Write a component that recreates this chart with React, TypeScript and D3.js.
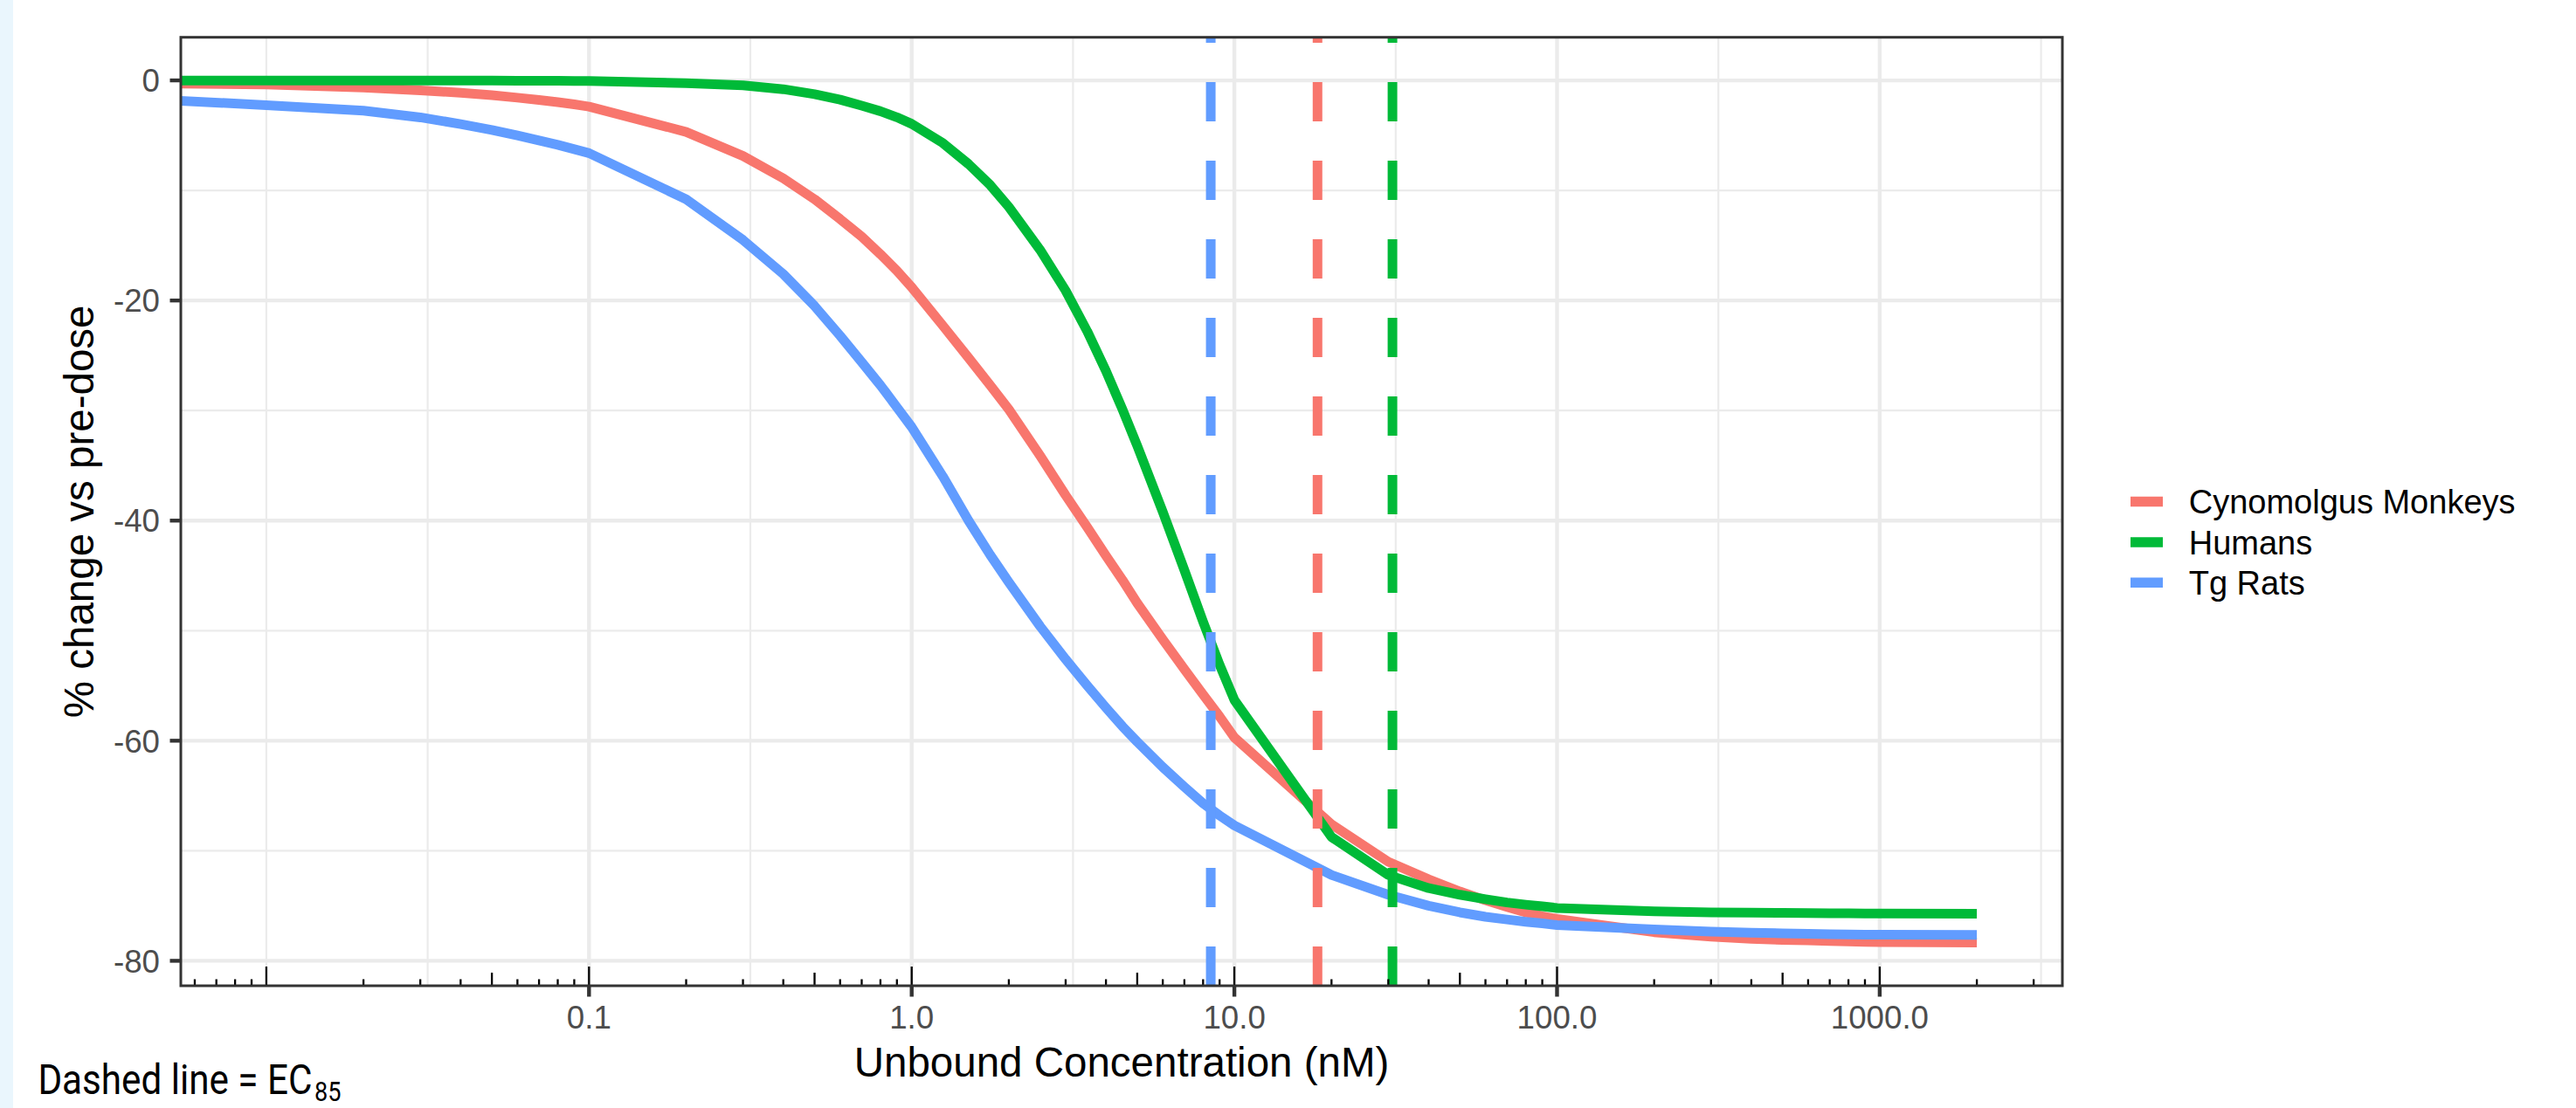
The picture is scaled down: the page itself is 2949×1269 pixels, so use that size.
import React from 'react';
import * as d3 from 'd3';

// ---- data ----
const concentrations = [
  0.001, 0.01, 0.02, 0.03, 0.04, 0.05, 0.06, 0.07, 0.08, 0.09,
  0.1, 0.2, 0.3, 0.4, 0.5, 0.6, 0.7, 0.8, 0.9,
  1, 1.25, 1.5, 1.75, 2, 2.5, 3, 3.5, 4, 4.5, 5, 6, 7, 8, 9,
  10, 20, 30, 40, 50, 60, 70, 80, 90,
  100, 200, 300, 400, 500, 600, 700, 800, 900,
  1000, 2000,
];
const cynoValues = [
  -0.05, -0.37, -0.65, -0.9, -1.13, -1.35, -1.57, -1.78, -1.98, -2.18,
  -2.38, -4.68, -6.87, -8.9, -10.8, -12.6, -14.2, -15.8, -17.3,
  -18.8, -22.3, -25.2, -27.7, -29.9, -34.1, -37.7, -40.6, -43.2, -45.4, -47.5, -50.8, -53.5, -55.8, -57.8,
  -59.7, -67.6, -71.0, -72.6, -73.7, -74.5, -75.1, -75.6, -75.95,
  -76.2, -77.4, -77.8, -78.0, -78.1, -78.15, -78.2, -78.25, -78.28,
  -78.3, -78.35,
];
const humanValues = [
  0, -0.01, -0.01, -0.01, -0.02, -0.02, -0.03, -0.03, -0.04, -0.05,
  -0.06, -0.25, -0.45, -0.8, -1.25, -1.75, -2.3, -2.8, -3.35,
  -3.95, -5.7, -7.6, -9.5, -11.5, -15.4, -19.1, -22.8, -26.4, -29.9, -33.2, -39.2, -44.5, -49.2, -53.1,
  -56.3, -68.75, -72.2, -73.4, -74.0, -74.4, -74.7, -74.9, -75.05,
  -75.2, -75.5, -75.6, -75.62, -75.65, -75.67, -75.68, -75.69, -75.7,
  -75.7, -75.72,
];
const ratValues = [
  -0.75, -2.25, -2.75, -3.36, -3.97, -4.5, -5.0, -5.45, -5.85, -6.25,
  -6.61, -10.8, -14.5, -17.6, -20.5, -23.2, -25.6, -27.7, -29.7,
  -31.5, -36.0, -40.0, -43.1, -45.6, -49.6, -52.6, -55.0, -57.0, -58.7, -60.1, -62.4, -64.2, -65.7, -66.8,
  -67.7, -72.2, -74.0, -75.0, -75.6, -76.0, -76.25, -76.45, -76.6,
  -76.75, -77.15, -77.35, -77.45, -77.5, -77.55, -77.58, -77.6, -77.62,
  -77.63, -77.65,
];
const seriesNames = ['Cynomolgus Monkeys', 'Humans', 'Tg Rats'];
const seriesColors = ['#F8766D', '#00BA38', '#619CFF'];
const ec85Values = [18.1, 30.9, 8.45];
const xLimits = [0.01, 2000];
const xTickValues = [0.1, 1, 10, 100, 1000];
const xTickLabels = ['0.1', '1.0', '10.0', '100.0', '1000.0'];
const yTickValues = [0, -20, -40, -60, -80];
const yTickLabels = ['0', '-20', '-40', '-60', '-80'];
const xTitle = 'Unbound Concentration (nM)';
const yTitle = '% change vs pre-dose';
const captionMain = 'Dashed line = EC';
const captionSub = '85';

// ---- layout ----
const W = 2949;
const H = 1269;
const PL = 207;
const PR = 2361;
const PT = 42.7;
const PB = 1129;
const SANS = '"Liberation Sans", Arial, Helvetica, sans-serif';

export default function App() {
  const seriesValues = [cynoValues, humanValues, ratValues];

  const lo = Math.log10(xLimits[0]);
  const hi = Math.log10(xLimits[1]);
  const xr = hi - lo;
  const x = d3
    .scaleLog()
    .domain([Math.pow(10, lo - 0.05 * xr), Math.pow(10, hi + 0.05 * xr)])
    .range([PL, PR]);

  const allY = seriesValues.flat();
  const yMin = d3.min(allY) as number;
  const yMax = d3.max(allY) as number;
  const yr = yMax - yMin;
  const y = d3
    .scaleLinear()
    .domain([yMin - 0.05 * yr, yMax + 0.05 * yr])
    .range([PB, PT]);

  const [dLo, dHi] = x.domain().map(Math.log10);

  // minor grid (ggplot-style regular minor breaks, in log space)
  const logMajors = xTickValues.map(Math.log10);
  const ext = [logMajors[0] - 1, ...logMajors, logMajors[logMajors.length - 1] + 1];
  const xMinorLogs: number[] = [];
  for (let i = 0; i < ext.length - 1; i++) {
    xMinorLogs.push(ext[i], (ext[i] + ext[i + 1]) / 2);
  }
  xMinorLogs.push(ext[ext.length - 1]);
  const xMinor = xMinorLogs.filter((l) => l >= dLo && l <= dHi && !logMajors.includes(l));

  const yStep = yTickValues[0] - yTickValues[1];
  const yMinor: number[] = [];
  for (let v = yTickValues[0] + yStep / 2; v >= yTickValues[yTickValues.length - 1] - yStep; v -= yStep) {
    if (v >= y.domain()[0] && v <= y.domain()[1]) yMinor.push(v);
  }

  // log ticks along the bottom
  const logTicks: { v: number; len: number }[] = [];
  for (let k = -4; k <= 4; k++) {
    for (let m = 1; m <= 9; m++) {
      const v = m * Math.pow(10, k);
      const l = Math.log10(v);
      if (l < dLo || l > dHi) continue;
      logTicks.push({ v, len: m === 1 ? 22 : m === 5 ? 15 : 7.5 });
    }
  }

  const line = d3
    .line<[number, number]>()
    .x((d) => x(d[0]))
    .y((d) => y(d[1]));

  const legendRows = [574.5, 621, 667.3];

  return (
    <svg
      width={W}
      height={H}
      viewBox={`0 0 ${W} ${H}`}
      style={{ position: 'absolute', left: 0, top: 0, display: 'block' }}
    >
      <defs>
        <clipPath id="panel-clip">
          <rect x={PL} y={PT} width={PR - PL} height={PB - PT} />
        </clipPath>
      </defs>
      <rect x={0} y={0} width={W} height={H} fill="#ffffff" />
      <rect x={0} y={0} width={15} height={H} fill="#EAF6FD" />

      {/* grid */}
      <g>
        {xMinor.map((l) => (
          <line key={'xm' + l} x1={x(Math.pow(10, l))} x2={x(Math.pow(10, l))} y1={PT} y2={PB} stroke="#EBEBEB" strokeWidth={2.2} />
        ))}
        {yMinor.map((v) => (
          <line key={'ym' + v} x1={PL} x2={PR} y1={y(v)} y2={y(v)} stroke="#EBEBEB" strokeWidth={2.2} />
        ))}
        {xTickValues.map((v) => (
          <line key={'xM' + v} x1={x(v)} x2={x(v)} y1={PT} y2={PB} stroke="#EBEBEB" strokeWidth={4.4} />
        ))}
        {yTickValues.map((v) => (
          <line key={'yM' + v} x1={PL} x2={PR} y1={y(v)} y2={y(v)} stroke="#EBEBEB" strokeWidth={4.4} />
        ))}
      </g>

      {/* data */}
      <g clipPath="url(#panel-clip)">
        {seriesValues.map((vals, i) => (
          <path
            key={seriesNames[i]}
            d={line(concentrations.map((c, j) => [c, vals[j]] as [number, number])) || ''}
            fill="none"
            stroke={seriesColors[i]}
            strokeWidth={11}
            strokeLinejoin="round"
            strokeLinecap="butt"
          />
        ))}
        {ec85Values.map((v, i) => (
          <line
            key={'ec' + i}
            x1={x(v)}
            x2={x(v)}
            y1={PB}
            y2={PT}
            stroke={seriesColors[i]}
            strokeWidth={11}
            strokeDasharray="45 45"
            strokeLinecap="butt"
          />
        ))}
        {logTicks.map((t, i) => (
          <line key={'lt' + i} x1={x(t.v)} x2={x(t.v)} y1={PB} y2={PB - t.len} stroke="#000000" strokeWidth={2.3} />
        ))}
      </g>

      {/* panel border */}
      <rect x={PL} y={PT} width={PR - PL} height={PB - PT} fill="none" stroke="#333333" strokeWidth={3} />

      {/* y axis */}
      <g>
        {yTickValues.map((v, i) => (
          <g key={'yt' + v}>
            <line x1={PL - 12.5} x2={PL} y1={y(v)} y2={y(v)} stroke="#333333" strokeWidth={4.4} />
            <text x={183} y={y(v) + 13.2} textAnchor="end" fontFamily={SANS} fontSize={36.7} fill="#4D4D4D">
              {yTickLabels[i]}
            </text>
          </g>
        ))}
        <text
          transform={`translate(107, ${(PT + PB) / 2}) rotate(-90)`}
          textAnchor="middle"
          fontFamily={SANS}
          fontSize={47.5}
          fill="#000000"
        >
          {yTitle}
        </text>
      </g>

      {/* x axis */}
      <g>
        {xTickValues.map((v, i) => (
          <g key={'xt' + v}>
            <line x1={x(v)} x2={x(v)} y1={PB} y2={PB + 12.5} stroke="#333333" strokeWidth={4.4} />
            <text x={x(v)} y={1178} textAnchor="middle" fontFamily={SANS} fontSize={36.7} fill="#4D4D4D">
              {xTickLabels[i]}
            </text>
          </g>
        ))}
        <text x={(PL + PR) / 2} y={1233} textAnchor="middle" fontFamily={SANS} fontSize={47.5} fill="#000000">
          {xTitle}
        </text>
      </g>

      {/* legend */}
      <g>
        {seriesNames.map((n, i) => (
          <g key={'lg' + n}>
            <line x1={2439} x2={2476} y1={legendRows[i]} y2={legendRows[i]} stroke={seriesColors[i]} strokeWidth={11.5} />
            <text x={2505.7} y={legendRows[i] + 13.5} fontFamily={SANS} fontSize={38} fill="#000000">
              {n}
            </text>
          </g>
        ))}
      </g>

      {/* caption */}
      <text
        x={43.4}
        y={1253.3}
        fontFamily="Roboto, sans-serif"
        fontSize={48}
        fill="#000000"
        textLength={314}
        lengthAdjust="spacingAndGlyphs"
      >
        {captionMain}
      </text>
      <text
        x={360}
        y={1260.7}
        fontFamily="Roboto, sans-serif"
        fontSize={32}
        fill="#000000"
        textLength={30.5}
        lengthAdjust="spacingAndGlyphs"
      >
        {captionSub}
      </text>
    </svg>
  );
}
